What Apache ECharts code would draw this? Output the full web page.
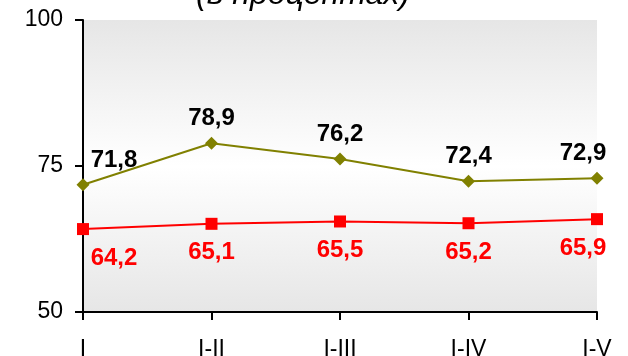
<!DOCTYPE html>
<html>
<head>
<meta charset="utf-8">
<script src="https://cdn.jsdelivr.net/npm/echarts@6/dist/echarts.min.js"></script>
<style>
html,body{margin:0;padding:0;background:#fff;}
#chart{width:628px;height:356px;}
</style>
</head>
<body>
<div id="chart"></div>
<script>
// Periods (cumulative months) and the two series, in percent
var categories = ['I', 'I-II', 'I-III', 'I-IV', 'I-V'];
var upperSeries = [71.8, 78.9, 76.2, 72.4, 72.9];
var lowerSeries = [64.2, 65.1, 65.5, 65.2, 65.9];
var yTicks = [50, 75, 100];
var subtitle = '(в процентах)';

var FONT = 'Arial, "Liberation Sans", sans-serif';

function fmt(v) { return v.toFixed(1).replace('.', ','); }

// Shift the end labels inward so they stay inside the plot
function withEdgeOffsets(values, dy) {
  return values.map(function (v, i) {
    var dx = 0;
    if (i === 0) dx = 31;
    if (i === values.length - 1) dx = -14;
    return { value: v, label: { offset: [dx, dy] } };
  });
}

var chart = echarts.init(document.getElementById('chart'), null, { renderer: 'canvas' });

chart.setOption({
  animation: false,
  backgroundColor: '#ffffff',
  graphic: [{
    type: 'text',
    style: {
      text: subtitle,
      x: 303,
      y: -21,
      textAlign: 'center',
      font: 'italic 32px ' + FONT,
      fill: '#000'
    }
  }],
  grid: {
    left: 83,
    right: 31,
    top: 20,
    bottom: 44,
    outerBoundsMode: 'none',
    containLabel: false,
    show: true,
    borderWidth: 0,
    backgroundColor: new echarts.graphic.LinearGradient(0, 0, 0, 1, [
      { offset: 0, color: '#e6e6e6' },
      { offset: 0.5, color: '#ffffff' },
      { offset: 1, color: '#e6e6e6' }
    ])
  },
  xAxis: {
    type: 'category',
    data: categories,
    boundaryGap: false,
    axisLine: { lineStyle: { color: '#000', width: 2 } },
    axisTick: { show: true, length: 8, lineStyle: { color: '#000', width: 2 } },
    axisLabel: { color: '#000', fontSize: 23, fontFamily: FONT, margin: 26 },
    splitLine: { show: false }
  },
  yAxis: {
    type: 'value',
    min: yTicks[0],
    max: yTicks[yTicks.length - 1],
    interval: yTicks[1] - yTicks[0],
    axisLine: { show: true, lineStyle: { color: '#000', width: 2 } },
    axisTick: { show: true, length: 8, lineStyle: { color: '#000', width: 2 } },
    axisLabel: { color: '#000', fontSize: 23, fontFamily: FONT, margin: 20 },
    splitLine: { show: false }
  },
  series: [
    {
      type: 'line',
      data: withEdgeOffsets(upperSeries, 0),
      symbol: 'diamond',
      symbolSize: 13,
      lineStyle: { color: '#808000', width: 2 },
      itemStyle: { color: '#808000' },
      label: {
        show: true,
        position: 'top',
        distance: 6,
        color: '#000',
        fontSize: 24,
        fontWeight: 'bold',
        fontFamily: FONT,
        formatter: function (p) { return fmt(p.value); }
      },
      z: 3
    },
    {
      type: 'line',
      data: withEdgeOffsets(lowerSeries, 0),
      symbol: 'rect',
      symbolSize: 12,
      lineStyle: { color: '#ff0000', width: 2 },
      itemStyle: { color: '#ff0000' },
      label: {
        show: true,
        position: 'bottom',
        distance: 11,
        color: '#ff0000',
        fontSize: 24,
        fontWeight: 'bold',
        fontFamily: FONT,
        formatter: function (p) { return fmt(p.value); }
      },
      z: 3
    }
  ]
});
</script>
</body>
</html>
